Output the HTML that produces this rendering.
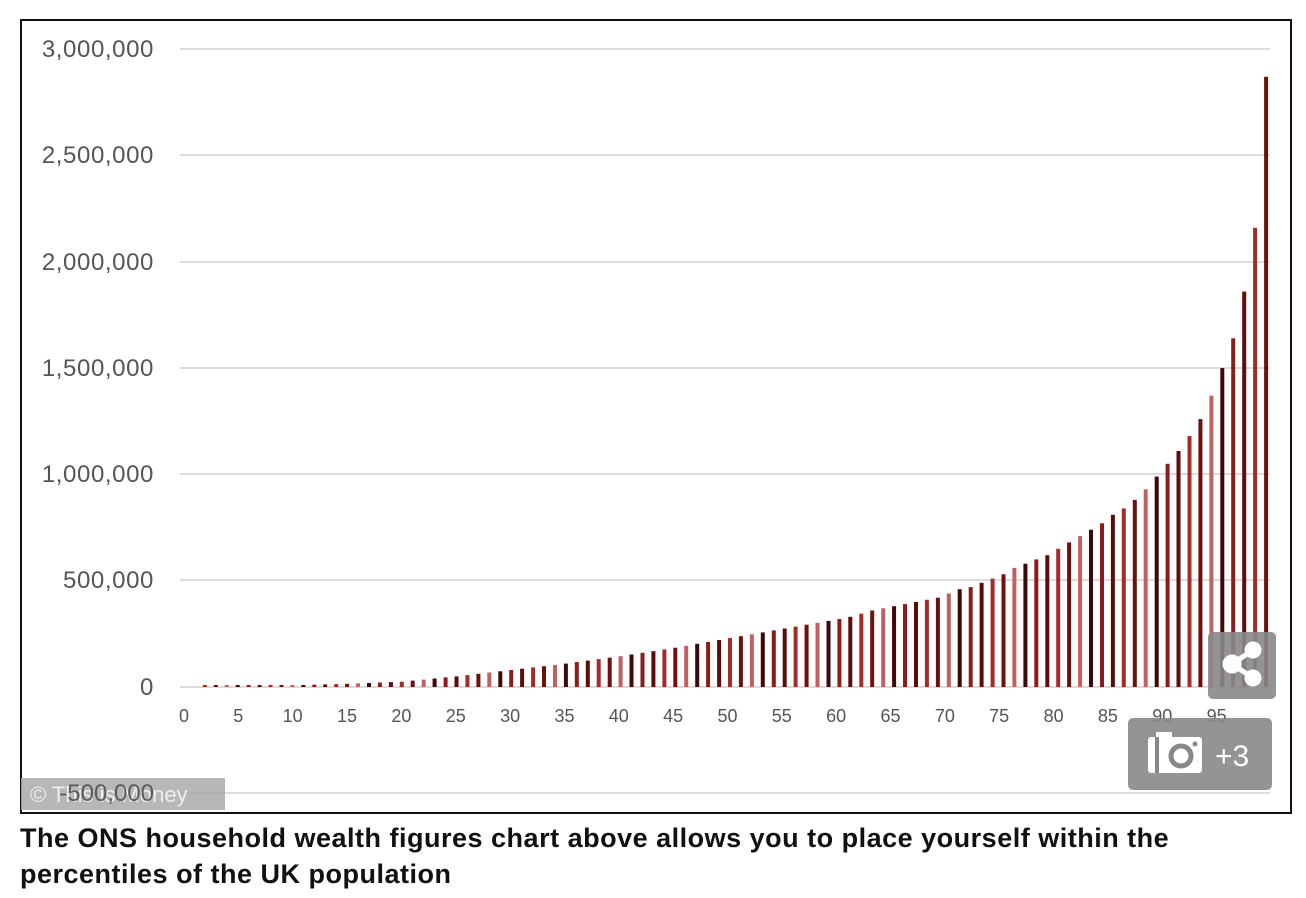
<!DOCTYPE html>
<html><head><meta charset="utf-8"><style>
body{margin:0;background:#fff;width:1306px;height:898px;overflow:hidden;font-family:"Liberation Sans",sans-serif}
#frame{position:absolute;left:20px;top:19px;width:1268px;height:791px;border:2px solid #111;background:#fff}
.cap{position:absolute;left:20px;top:820px;font-weight:bold;font-size:27px;letter-spacing:0.5px;line-height:36px;color:#111;width:1280px;white-space:nowrap}
</style></head><body>
<div id="frame"></div>
<svg id="s" width="1306" height="898" style="position:absolute;left:0;top:0">
<g stroke="#dcdcdc" stroke-width="2">
<line x1="180" x2="1270" y1="49" y2="49"/><line x1="180" x2="1270" y1="155" y2="155"/>
<line x1="180" x2="1270" y1="262" y2="262"/><line x1="180" x2="1270" y1="368" y2="368"/>
<line x1="180" x2="1270" y1="474" y2="474"/><line x1="180" x2="1270" y1="580" y2="580"/>
<line x1="180" x2="1270" y1="687" y2="687"/><line x1="180" x2="1270" y1="793" y2="793"/>
</g>
<g font-size="24" fill="#555" text-anchor="end" font-family="Liberation Sans, sans-serif" letter-spacing="0.6">
<text x="154" y="57">3,000,000</text><text x="154" y="163">2,500,000</text>
<text x="154" y="270">2,000,000</text><text x="154" y="376">1,500,000</text>
<text x="154" y="482">1,000,000</text><text x="154" y="588">500,000</text>
<text x="154" y="695">0</text>
</g>
<g id="bars"></g>
<g id="xl" font-size="18" fill="#555" text-anchor="middle" font-family="Liberation Sans, sans-serif"></g>
<rect x="21" y="778" width="204" height="32" fill="#aaa" opacity="0.85"/>
<text x="30" y="802" font-size="22" fill="#eee">© This is Money</text>
<text x="154" y="801" font-size="24" fill="#444" text-anchor="end" opacity="0.8">-500,000</text>
<rect x="1208" y="632" width="68" height="67" rx="5" fill="#888" opacity="0.9"/>
<g fill="#fff" stroke="#fff" stroke-width="5"><line x1="1232" y1="664" x2="1253" y2="650"/><line x1="1232" y1="664" x2="1253" y2="678"/>
<circle cx="1232" cy="664" r="7"/><circle cx="1253" cy="650" r="6"/><circle cx="1253" cy="678" r="6"/></g>
<rect x="1128" y="718" width="144" height="72" rx="5" fill="#888" opacity="0.9"/>
<rect x="1148" y="737" width="54" height="36" rx="3" fill="#fff"/>
<rect x="1156" y="732" width="16" height="8" fill="#fff"/>
<rect x="1155" y="737" width="4" height="36" fill="#888"/>
<circle cx="1181" cy="756" r="10" fill="none" stroke="#888" stroke-width="5"/>
<circle cx="1195" cy="744" r="2.5" fill="#888"/>
<text x="1215" y="766" font-size="30" fill="#fff">+3</text>
</svg>
<div class="cap">The ONS household wealth figures chart above allows you to place yourself within the<br>percentiles of the UK population</div>
<script>
var k={1:3,5:5,10:8,15:15,20:25,25:50,30:80,35:110,40:145,45:185,50:230,55:275,60:320,61:330,62:345,63:360,64:370,65:380,66:390,67:400,68:410,69:420,70:440,71:460,72:470,73:490,74:510,75:530,76:560,77:580,78:600,79:620,80:650,81:680,82:710,83:740,84:770,85:810,86:840,87:880,88:930,89:990,90:1050,91:1110,92:1180,93:1260,94:1370,95:1500,96:1640,97:1860,98:2160,99:2870};
var keys=Object.keys(k).map(Number).sort((a,b)=>a-b);
function v(i){if(k[i]!=null)return k[i];for(var j=0;j<keys.length-1;j++){var a=keys[j],b=keys[j+1];if(i>a&&i<b)return k[a]+(k[b]-k[a])*(i-a)/(b-a);}}
var cols=["#8e1b1b","#5c0c0c","#a52a2a","#6e1010","#c06060","#3d0808"];
var h="";
for(var i=2;i<=99;i++){var x=183+10.94*i;var val=v(i)*1000;var t=687-val*0.0002126;if(687-t<2)t=685;
h+='<rect x="'+(x-2).toFixed(1)+'" y="'+t.toFixed(1)+'" width="4" height="'+(687-t).toFixed(1)+'" fill="'+cols[(i*7)%6]+'"/>';}
document.getElementById("bars").innerHTML=h;
var l="";for(var i=0;i<=95;i+=5){l+='<text x="'+(184+10.87*i).toFixed(1)+'" y="722">'+i+'</text>';}
document.getElementById("xl").innerHTML=l;
</script>
</body></html>
